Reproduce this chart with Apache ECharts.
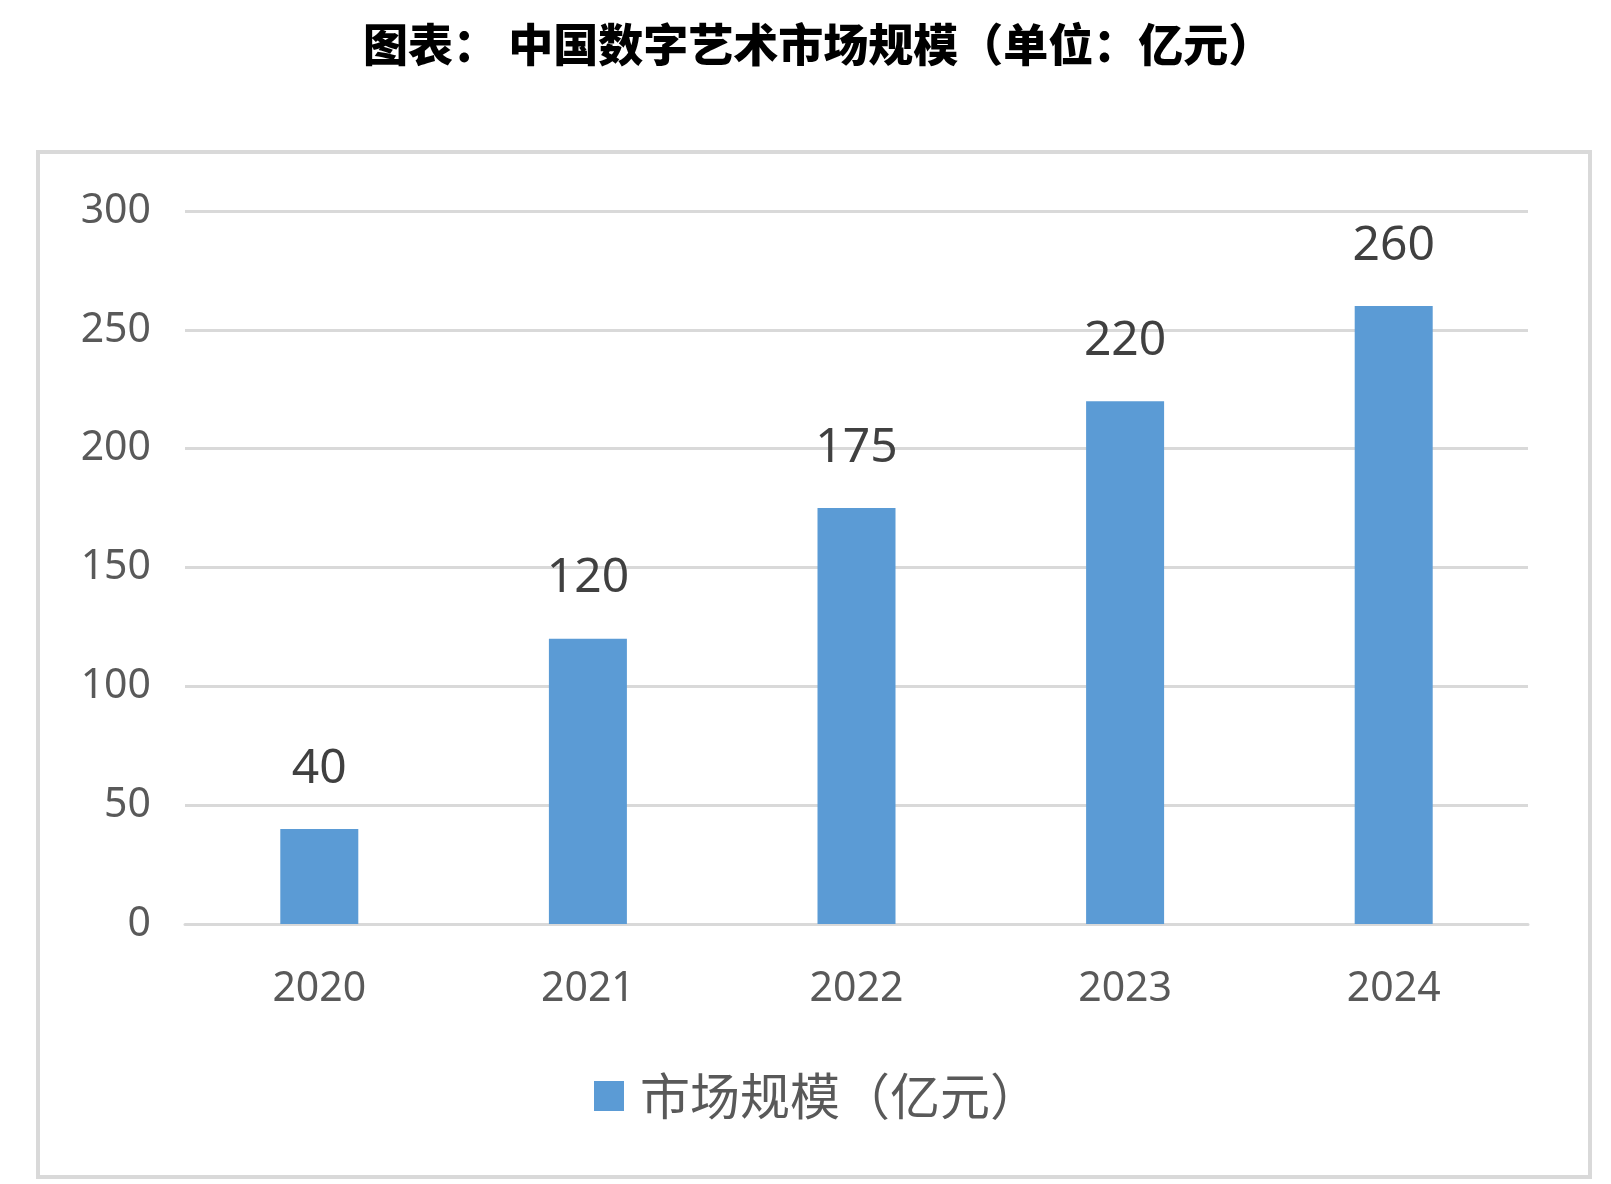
<!DOCTYPE html>
<html>
<head>
<meta charset="utf-8">
<script src="https://cdn.jsdelivr.net/npm/echarts@6/dist/echarts.min.js"></script>
<style>
  html, body { margin: 0; padding: 0; background: #fff; }
  #main { width: 1611px; height: 1184px; }
</style>
</head>
<body>
<div id="main"></div>
<script>
// data
var years = ['2020', '2021', '2022', '2023', '2024'];
var marketSize = [40, 120, 175, 220, 260];
var seriesName = '市场规模（亿元）';
var titleText = '图表： 中国数字艺术市场规模（单位：亿元）';

var myChart = echarts.init(document.getElementById('main'));

var option = {
    backgroundColor: '#ffffff',
    animation: false,
    title: {
        text: titleText,
        left: 358,
        top: 17,
        textStyle: {
            fontFamily: 'Noto Sans CJK SC',
            fontWeight: 900,
            fontSize: 45,
            color: '#000000'
        }
    },
    graphic: [
        {
            type: 'rect',
            shape: { x: 38, y: 152, width: 1552, height: 1025 },
            style: { fill: 'none', stroke: '#d9d9d9', lineWidth: 4 },
            silent: true
        }
    ],
    legend: {
        data: [seriesName],
        left: 594,
        top: 1071,
        padding: 0,
        icon: 'rect',
        itemWidth: 30,
        itemHeight: 30,
        textStyle: {
            fontFamily: 'Noto Sans CJK SC',
            fontSize: 50,
            color: '#595959',
            padding: [0, 0, 0, 11]
        }
    },
    grid: {
        left: 185,
        right: 83,
        top: 211,
        height: 713,
        containLabel: false
    },
    xAxis: {
        type: 'category',
        data: years,
        axisLine: { lineStyle: { color: '#d9d9d9', width: 3 } },
        axisTick: { show: false },
        axisLabel: {
            margin: 45,
            fontFamily: 'Noto Sans',
            fontSize: 41,
            color: '#595959'
        }
    },
    yAxis: {
        type: 'value',
        min: 0,
        max: 300,
        interval: 50,
        axisLine: { show: false },
        axisTick: { show: false },
        splitLine: { lineStyle: { color: '#d9d9d9', width: 3 } },
        axisLabel: {
            margin: 34,
            padding: [16, 0, 0, 0],
            fontFamily: 'Noto Sans',
            fontSize: 41,
            color: '#595959'
        }
    },
    series: [
        {
            name: seriesName,
            type: 'bar',
            data: marketSize,
            barWidth: 78,
            itemStyle: { color: '#5b9bd5' },
            label: {
                show: true,
                position: 'top',
                distance: 36,
                fontFamily: 'Noto Sans',
                fontSize: 48,
                color: '#404040'
            }
        }
    ]
};

option && myChart.setOption(option);
</script>
</body>
</html>
